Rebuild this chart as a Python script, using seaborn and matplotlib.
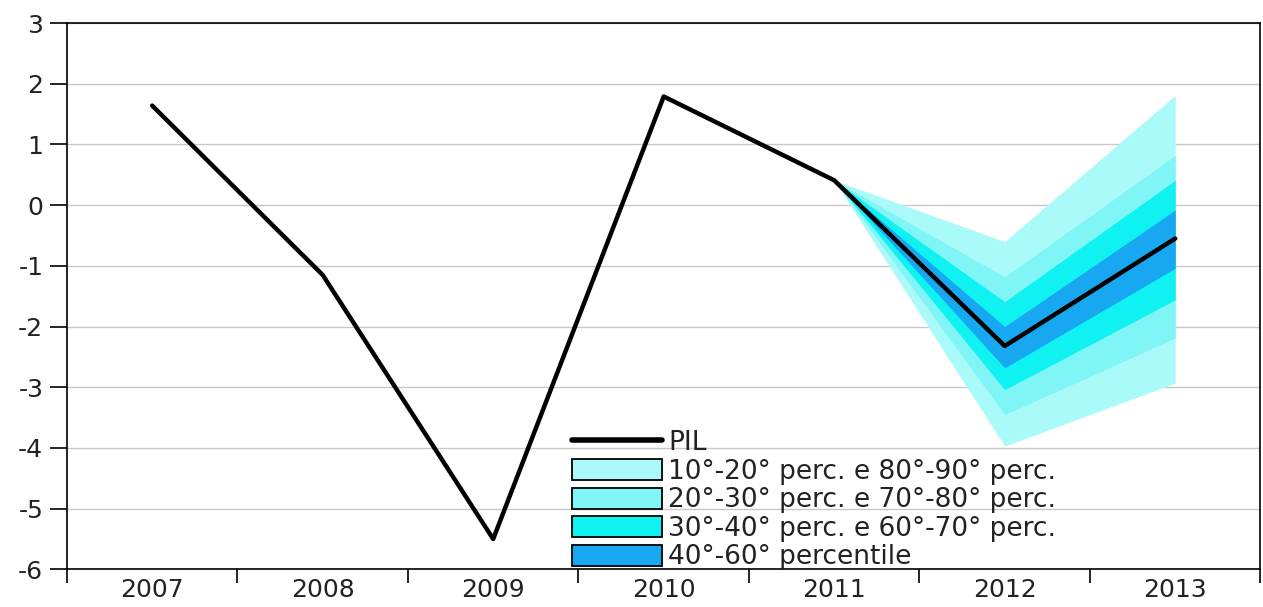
import matplotlib
matplotlib.use("Agg")
import matplotlib.pyplot as plt
import seaborn as sns
import numpy as np
import pandas as pd
from matplotlib.patches import Patch
from matplotlib.lines import Line2D

years = ["2007", "2008", "2009", "2010", "2011", "2012", "2013"]
pil = [1.64, -1.15, -5.5, 1.79, 0.41, -2.32, -0.55]

fan_years = ["2011", "2012", "2013"]
p10 = [0.41, -3.97, -2.93]
p20 = [0.41, -3.45, -2.19]
p30 = [0.41, -3.04, -1.56]
p40 = [0.41, -2.68, -1.04]
p60 = [0.41, -2.00, -0.08]
p70 = [0.41, -1.59, 0.41]
p80 = [0.41, -1.18, 0.82]
p90 = [0.41, -0.60, 1.81]

yticks = [-6, -5, -4, -3, -2, -1, 0, 1, 2, 3]
ytick_labels = ["-6", "-5", "-4", "-3", "-2", "-1", "0", "1", "2", "3"]

labels = ["PIL",
          "10°-20° perc. e 80°-90° perc.",
          "20°-30° perc. e 70°-80° perc.",
          "30°-40° perc. e 60°-70° perc.",
          "40°-60° percentile"]
colors = ["#ABFAFA", "#80F5F5", "#10F2F2", "#18A8F2"]

sns.set_theme(style="white")
plt.rcParams['font.family'] = ['DejaVu Sans']

fig = plt.figure(figsize=(12.63, 6.07), dpi=100)
ax = fig.add_axes([0.053, 0.062, 0.945, 0.900])

df = pd.DataFrame({"x": np.arange(len(years)), "PIL": pil})
fx = np.array([years.index(y) for y in fan_years])

ax.fill_between(fx, p10, p90, color=colors[0], lw=0, zorder=2)
ax.fill_between(fx, p20, p80, color=colors[1], lw=0, zorder=3)
ax.fill_between(fx, p30, p70, color=colors[2], lw=0, zorder=4)
ax.fill_between(fx, p40, p60, color=colors[3], lw=0, zorder=5)
sns.lineplot(data=df, x="x", y="PIL", ax=ax, color="black", lw=3.2, zorder=6, legend=False)

ax.set_xlim(-0.5, len(years) - 0.5)
ax.set_ylim(-6, 3)
ax.set_yticks(yticks)
ax.set_yticklabels(ytick_labels)
ax.set_xticks(range(len(years)))
ax.set_xticklabels(years)
ax.set_xticks(np.arange(-0.5, len(years)), minor=True)
ax.set_xlabel("")
ax.set_ylabel("")
ax.tick_params(axis="x", which="major", length=0, labelsize=18, pad=6)
ax.tick_params(axis="x", which="minor", length=10, width=1.2, direction="out", color="black", bottom=True)
ax.tick_params(axis="y", length=12, width=1.2, direction="out", color="black", left=True, labelsize=18, pad=5)
for lab in ax.get_xticklabels() + ax.get_yticklabels():
    lab.set_color("#222222")

ax.yaxis.grid(True, color="#C8C8C8", lw=1)
ax.xaxis.grid(False)
ax.set_axisbelow(True)
for s in ax.spines.values():
    s.set_color("black")
    s.set_linewidth(1.2)

handles = [Line2D([0], [0], color="black", lw=4)]
handles += [Patch(facecolor=c, edgecolor="black", lw=1.3) for c in colors]
leg = ax.legend(handles, labels, loc="lower left", bbox_to_anchor=(0.423, -0.002),
                frameon=False, fontsize=19, handlelength=3.4, handleheight=0.85,
                handletextpad=0.25, labelspacing=0.1, borderpad=0, borderaxespad=0)
for t in leg.get_texts():
    t.set_color("#222222")

fig.savefig("out.png", dpi=100)
